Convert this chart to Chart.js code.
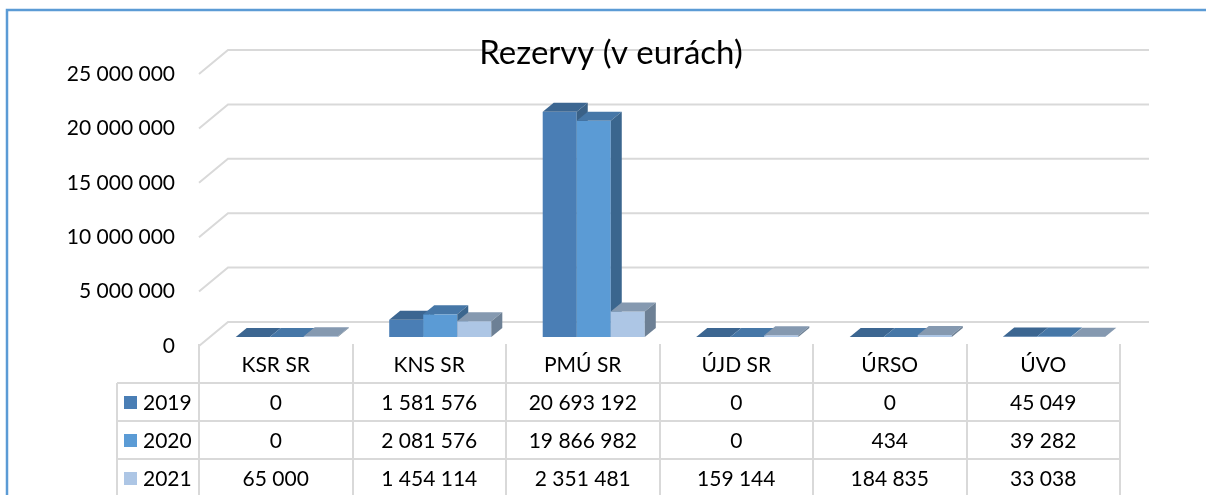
<!DOCTYPE html>
<html>
<head>
<meta charset="utf-8">
<script src="https://cdn.jsdelivr.net/npm/chart.js@4"></script>
<style>
  html, body { margin: 0; padding: 0; background: #ffffff; }
  #chart { display: block; }
</style>
</head>
<body>
<canvas id="chart" width="1206" height="495"></canvas>
<script>
const categories = ["KSR SR", "KNS SR", "PMÚ SR", "ÚJD SR", "ÚRSO", "ÚVO"];
const years = ["2019", "2020", "2021"];
const values2019 = [0, 1581576, 20693192, 0, 0, 45049];
const values2020 = [0, 2081576, 19866982, 0, 434, 39282];
const values2021 = [65000, 1454114, 2351481, 159144, 184835, 33038];
const yTicks = [0, 5000000, 10000000, 15000000, 20000000, 25000000];

const faceColors = [
  { front: "#4a7eb5", top: "#3c6691", side: "#3a6187" },
  { front: "#5b9bd5", top: "#4677a7", side: "#3b668e" },
  { front: "#adc6e5", top: "#8599b0", side: "#6d8095" }
];

const fontFamily = "Lato, 'Open Sans', sans-serif";
const gridColor = "#d9d9d9";

// depth of the floor and offsets of the bar block inside it
const floorDepth = { dx: 29, dy: -24 };
const barShift = { dx: 11, dy: -9 };
const barDepth = { dx: 11, dy: -9 };

function formatNumber(value) {
  return String(value).replace(/\B(?=(\d{3})+(?!\d))/g, " ");
}

function drawWalls(chart) {
  const ctx = chart.ctx;
  const area = chart.chartArea;
  const y = chart.scales.y;

  ctx.save();
  ctx.strokeStyle = gridColor;
  ctx.lineWidth = 2;
  yTicks.forEach((tick) => {
    const py = y.getPixelForValue(tick);
    ctx.beginPath();
    ctx.moveTo(area.left, py);
    ctx.lineTo(area.left + floorDepth.dx, py + floorDepth.dy);
    ctx.lineTo(area.right + floorDepth.dx, py + floorDepth.dy);
    ctx.stroke();
  });

  ctx.fillStyle = "#000000";
  ctx.font = `21px ${fontFamily}`;
  ctx.textAlign = "right";
  ctx.textBaseline = "middle";
  yTicks.forEach((tick) => {
    ctx.fillText(formatNumber(tick), area.left - 24, y.getPixelForValue(tick));
  });
  ctx.restore();
}

function drawBars(chart) {
  const ctx = chart.ctx;

  ctx.save();
  ctx.translate(barShift.dx, barShift.dy);
  categories.forEach((category, index) => {
    chart.data.datasets.forEach((dataset, datasetIndex) => {
      const bar = chart.getDatasetMeta(datasetIndex).data[index];
      const colors = faceColors[datasetIndex];
      const left = bar.x - bar.width / 2;
      const right = bar.x + bar.width / 2;
      const top = Math.min(bar.y, bar.base);
      const base = bar.base;

      ctx.fillStyle = colors.front;
      ctx.fillRect(left, top, right - left, base - top);

      ctx.fillStyle = colors.top;
      ctx.beginPath();
      ctx.moveTo(left, top);
      ctx.lineTo(right, top);
      ctx.lineTo(right + barDepth.dx, top + barDepth.dy);
      ctx.lineTo(left + barDepth.dx, top + barDepth.dy);
      ctx.closePath();
      ctx.fill();

      if (base - top > 0.5) {
        ctx.fillStyle = colors.side;
        ctx.beginPath();
        ctx.moveTo(right, top);
        ctx.lineTo(right + barDepth.dx, top + barDepth.dy);
        ctx.lineTo(right + barDepth.dx, base + barDepth.dy);
        ctx.lineTo(right, base);
        ctx.closePath();
        ctx.fill();
      }
    });
  });
  ctx.restore();
}

function drawTable(chart) {
  const ctx = chart.ctx;
  const area = chart.chartArea;
  const x = chart.scales.x;
  const tableTop = chart.scales.y.getPixelForValue(0);
  const rowHeight = 38;
  const headerBottom = tableTop + 37;
  const legendLeft = area.left - 82;
  const band = (area.right - area.left) / categories.length;
  const seriesValues = [values2019, values2020, values2021];

  ctx.save();
  ctx.strokeStyle = gridColor;
  ctx.lineWidth = 2;

  for (let i = 0; i <= categories.length; i++) {
    const px = Math.round(x.getPixelForValue(0) - band / 2 + i * band);
    ctx.beginPath();
    ctx.moveTo(px, tableTop - 2);
    ctx.lineTo(px, chart.height);
    ctx.stroke();
  }

  ctx.beginPath();
  ctx.moveTo(legendLeft, headerBottom);
  ctx.lineTo(legendLeft, chart.height);
  ctx.stroke();

  for (let r = 0; r <= years.length; r++) {
    const py = headerBottom + r * rowHeight;
    ctx.beginPath();
    ctx.moveTo(legendLeft, py);
    ctx.lineTo(area.right, py);
    ctx.stroke();
  }

  ctx.fillStyle = "#000000";
  ctx.font = `21px ${fontFamily}`;
  ctx.textAlign = "center";
  ctx.textBaseline = "middle";
  categories.forEach((category, index) => {
    ctx.fillText(category, x.getPixelForValue(index), (tableTop + headerBottom) / 2 + 1);
  });

  years.forEach((year, r) => {
    const cy = headerBottom + r * rowHeight + rowHeight / 2;
    ctx.fillStyle = faceColors[r].front;
    ctx.fillRect(legendLeft + 7, cy - 6, 13, 13);
    ctx.fillStyle = "#000000";
    ctx.textAlign = "left";
    ctx.fillText(year, legendLeft + 26, cy + 1);
    ctx.textAlign = "center";
    seriesValues[r].forEach((value, index) => {
      ctx.fillText(formatNumber(value), x.getPixelForValue(index), cy + 1);
    });
  });
  ctx.restore();
}

function drawFrame(chart) {
  const ctx = chart.ctx;
  ctx.save();
  ctx.strokeStyle = "#5b9bd5";
  ctx.lineWidth = 2.5;
  ctx.beginPath();
  ctx.moveTo(7, chart.height);
  ctx.lineTo(7, 10);
  ctx.lineTo(chart.width, 10);
  ctx.stroke();

  ctx.fillStyle = "#000000";
  ctx.font = `33px ${fontFamily}`;
  ctx.textAlign = "center";
  ctx.textBaseline = "alphabetic";
  ctx.fillText("Rezervy (v eurách)", 611, 64);
  ctx.restore();
}

const chart3d = {
  id: "chart3d",
  beforeDatasetsDraw(chart) {
    drawWalls(chart);
    drawBars(chart);
    drawTable(chart);
    drawFrame(chart);
    return false;
  }
};

new Chart(document.querySelector("#chart"), {
  type: "bar",
  data: {
    labels: categories,
    datasets: [
      { label: years[0], data: values2019, backgroundColor: faceColors[0].front },
      { label: years[1], data: values2020, backgroundColor: faceColors[1].front },
      { label: years[2], data: values2021, backgroundColor: faceColors[2].front }
    ]
  },
  options: {
    responsive: false,
    animation: false,
    layout: {
      padding: { left: 199, right: 86, top: 74, bottom: 149 }
    },
    datasets: {
      bar: { categoryPercentage: 0.665, barPercentage: 1 }
    },
    scales: {
      x: { display: false, offset: true },
      y: { display: false, min: 0, max: 25000000 }
    },
    plugins: {
      legend: { display: false },
      tooltip: { enabled: false },
      title: { display: false }
    }
  },
  plugins: [chart3d]
});
</script>
</body>
</html>
